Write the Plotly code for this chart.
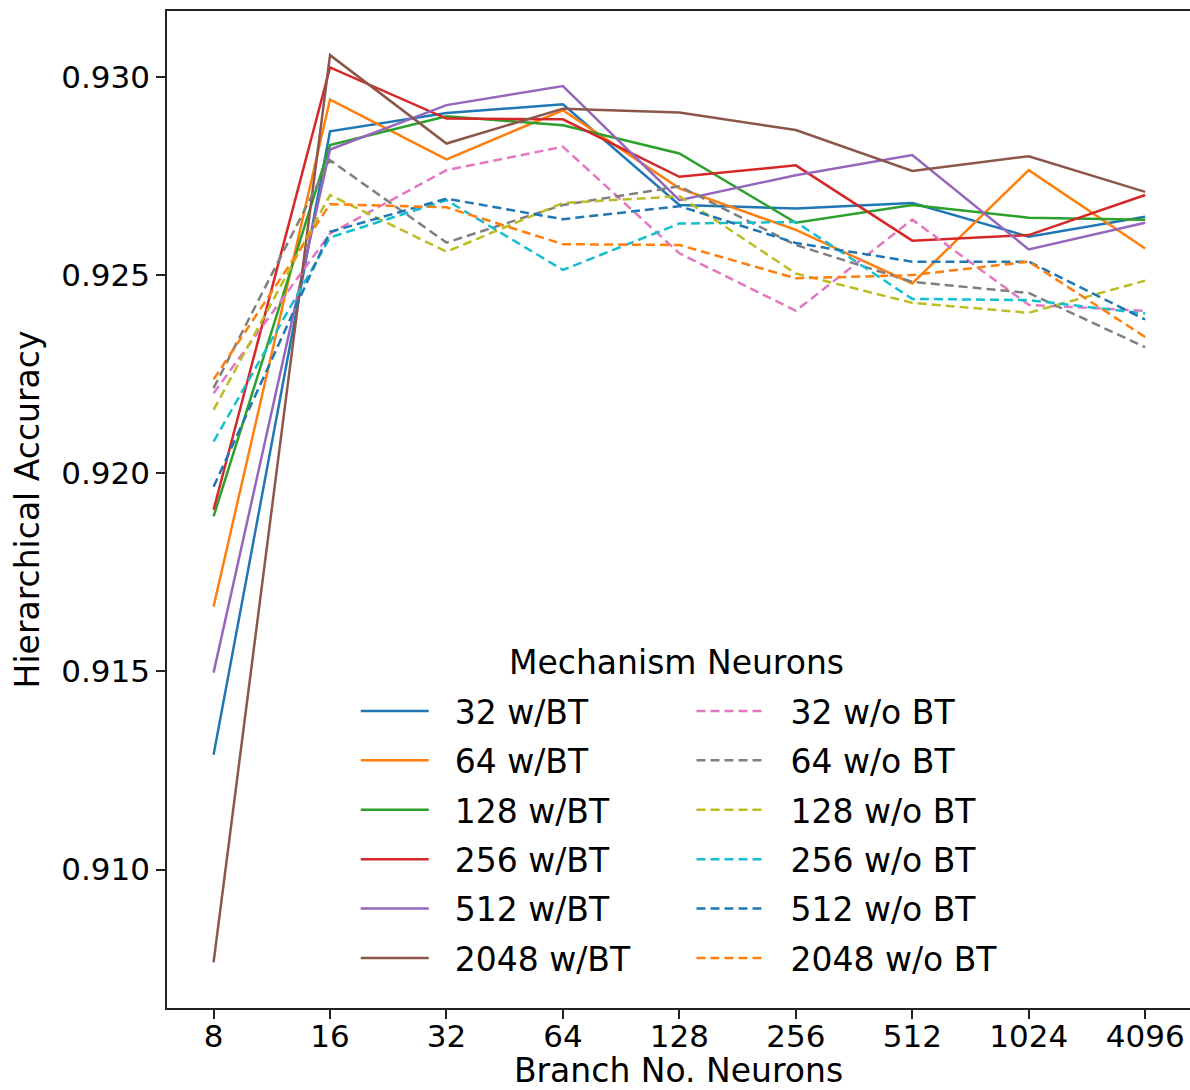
import plotly.graph_objects as go

x_labels = ["8", "16", "32", "64", "128", "256", "512", "1024", "4096"]

series_names = ["32 w/BT", "64 w/BT", "128 w/BT", "256 w/BT", "512 w/BT", "2048 w/BT",
                "32 w/o BT", "64 w/o BT", "128 w/o BT", "256 w/o BT", "512 w/o BT", "2048 w/o BT"]

acc_32_bt = [0.91290, 0.92863, 0.92909, 0.92931, 0.92677, 0.92668, 0.92682, 0.92597, 0.92647]
acc_64_bt = [0.91664, 0.92943, 0.92792, 0.92916, 0.92719, 0.92614, 0.92479, 0.92765, 0.92567]
acc_128_bt = [0.91891, 0.92828, 0.92901, 0.92878, 0.92807, 0.92632, 0.92677, 0.92645, 0.92640]
acc_256_bt = [0.91908, 0.93024, 0.92895, 0.92893, 0.92748, 0.92777, 0.92587, 0.92601, 0.92702]
acc_512_bt = [0.91497, 0.92817, 0.92929, 0.92977, 0.92689, 0.92752, 0.92803, 0.92565, 0.92632]
acc_2048_bt = [0.90766, 0.93055, 0.92832, 0.92920, 0.92910, 0.92866, 0.92763, 0.92800, 0.92710]
acc_32_nobt = [0.92202, 0.92605, 0.92765, 0.92824, 0.92555, 0.92410, 0.92640, 0.92425, 0.92410]
acc_64_nobt = [0.92215, 0.92790, 0.92582, 0.92677, 0.92724, 0.92576, 0.92483, 0.92455, 0.92318]
acc_128_nobt = [0.92160, 0.92702, 0.92559, 0.92682, 0.92699, 0.92504, 0.92430, 0.92405, 0.92486]
acc_256_nobt = [0.92080, 0.92595, 0.92689, 0.92513, 0.92630, 0.92634, 0.92440, 0.92437, 0.92403]
acc_512_nobt = [0.91966, 0.92609, 0.92693, 0.92641, 0.92674, 0.92581, 0.92534, 0.92534, 0.92388]
acc_2048_nobt = [0.92237, 0.92679, 0.92671, 0.92578, 0.92576, 0.92492, 0.92500, 0.92534, 0.92344]

series_values = [acc_32_bt, acc_64_bt, acc_128_bt, acc_256_bt, acc_512_bt, acc_2048_bt,
                 acc_32_nobt, acc_64_nobt, acc_128_nobt, acc_256_nobt, acc_512_nobt, acc_2048_nobt]

colors = ["#1f77b4", "#ff7f0e", "#2ca02c", "#d62728", "#9467bd", "#8c564b",
          "#e377c2", "#7f7f7f", "#bcbd22", "#17becf", "#1f77b4", "#ff7f0e"]

FONT = "DejaVu Sans"
NB = "\u00a0\u00a0"
fig = go.Figure()
for i, (name, vals, col) in enumerate(zip(series_names, series_values, colors)):
    dashed = i >= 6
    fig.add_trace(go.Scatter(
        x=x_labels, y=vals, name=NB + name, mode="lines",
        line=dict(color=col, width=2.5, dash="9px,5px" if dashed else "solid"),
        legend="legend2" if dashed else "legend",
        legendgroup="g%d" % i,
    ))

legend_common = dict(
    orientation="v", yanchor="top", xanchor="left",
    itemwidth=68, traceorder="grouped", tracegroupgap=3.5,
    font=dict(size=33, family=FONT, color="black"), bgcolor="rgba(255,255,255,0)",
)

fig.update_layout(
    width=1190, height=1090,
    margin=dict(l=167, r=0, t=11, b=82),
    paper_bgcolor="white", plot_bgcolor="white",
    font=dict(family=FONT, size=31, color="black"),
    showlegend=True,
    legend=dict(x=0.1845, y=0.326, **legend_common),
    legend2=dict(x=0.5127, y=0.326, **legend_common),
    annotations=[dict(
        text="Mechanism Neurons", xref="paper", yref="paper",
        x=0.4985, y=0.347, xanchor="center", yanchor="middle",
        showarrow=False, font=dict(size=33, family=FONT, color="black"),
    )],
    xaxis=dict(
        type="category", range=[-0.4, 8.385],
        showline=True, linecolor="#222", linewidth=1.5, mirror=True,
        ticks="outside", ticklen=9, tickwidth=1.5, tickcolor="#222",
        ticklabelstandoff=-9,
        showgrid=False, zeroline=False,
        title=dict(text="Branch No. Neurons", standoff=11, font=dict(size=33)),
        tickfont=dict(size=31),
    ),
    yaxis=dict(
        range=[0.906508, 0.931664],
        tickvals=[0.910, 0.915, 0.920, 0.925, 0.930],
        ticktext=["0.910", "0.915", "0.920", "0.925", "0.930"],
        showline=True, linecolor="#222", linewidth=1.5, mirror=False,
        ticks="outside", ticklen=9, tickwidth=1.5, tickcolor="#222",
        showgrid=False, zeroline=False,
        title=dict(text="Hierarchical Accuracy", standoff=12, font=dict(size=33)),
        tickfont=dict(size=31),
    ),
)

fig.write_html("out.html")
